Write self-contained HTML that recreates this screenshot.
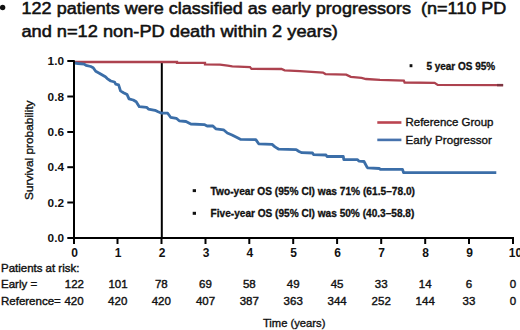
<!DOCTYPE html>
<html><head><meta charset="utf-8">
<style>
html,body{margin:0;padding:0;background:#fff;}
body{width:520px;height:330px;overflow:hidden;position:relative;}
svg{position:absolute;left:0;top:0;}
text{font-family:"Liberation Sans",sans-serif;white-space:pre;}
</style></head><body>
<svg width="520" height="330" viewBox="0 0 520 330">
<!-- title -->
<circle cx="2.6" cy="7.5" r="2.7" fill="#111"/>
<text x="21.6" y="13.8" font-size="17" fill="#111" stroke="#111" stroke-width="0.55" textLength="484.6" lengthAdjust="spacingAndGlyphs">122 patients were classified as early progressors  (n=110 PD</text>
<text x="21.4" y="36.6" font-size="17" fill="#111" stroke="#111" stroke-width="0.55" textLength="316.5" lengthAdjust="spacingAndGlyphs">and n=12 non-PD death within 2 years)</text>

<!-- y axis label -->
<text transform="translate(33.4,200) rotate(-90)" font-size="11.5" fill="#111" stroke="#111" stroke-width="0.35" textLength="99.5" lengthAdjust="spacingAndGlyphs">Survival probability</text>

<!-- axes -->
<g stroke="#000" stroke-width="2" fill="none">
<line x1="74" y1="60.2" x2="74" y2="244"/>
<line x1="67.3" y1="61" x2="74" y2="61"/>
<line x1="67.3" y1="96.5" x2="74" y2="96.5"/>
<line x1="67.3" y1="132" x2="74" y2="132"/>
<line x1="67.3" y1="167.2" x2="74" y2="167.2"/>
<line x1="67.3" y1="202.5" x2="74" y2="202.5"/>
<line x1="67.3" y1="238" x2="514" y2="238"/>
<line x1="117.5" y1="238" x2="117.5" y2="244"/>
<line x1="161.5" y1="238" x2="161.5" y2="244"/>
<line x1="205.5" y1="238" x2="205.5" y2="244"/>
<line x1="249.3" y1="238" x2="249.3" y2="244"/>
<line x1="293.2" y1="238" x2="293.2" y2="244"/>
<line x1="337.1" y1="238" x2="337.1" y2="244"/>
<line x1="381.2" y1="238" x2="381.2" y2="244"/>
<line x1="425.2" y1="238" x2="425.2" y2="244"/>
<line x1="469" y1="238" x2="469" y2="244"/>
<line x1="513" y1="238" x2="513" y2="244"/>
<line x1="161.8" y1="62.5" x2="161.8" y2="237.5"/>
</g>
<!-- y tick labels -->
<g font-size="11.8" font-weight="bold" fill="#111" text-anchor="end">
<text x="64" y="65">1.0</text>
<text x="64" y="100.5">0.8</text>
<text x="64" y="136">0.6</text>
<text x="64" y="171.2">0.4</text>
<text x="64" y="206.5">0.2</text>
<text x="64" y="241.5">0.0</text>
</g>
<!-- x tick labels -->
<g font-size="12" font-weight="bold" fill="#111" text-anchor="middle" transform="translate(0.5,0.6)">
<text x="74" y="256">0</text>
<text x="117.5" y="256">1</text>
<text x="161.5" y="256">2</text>
<text x="205.5" y="256">3</text>
<text x="249.3" y="256">4</text>
<text x="293.2" y="256">5</text>
<text x="337.1" y="256">6</text>
<text x="381.2" y="256">7</text>
<text x="425.2" y="256">8</text>
<text x="469" y="256">9</text>
<text x="515" y="256">10</text>
</g>

<!-- curves -->
<polyline fill="none" stroke="#ad424f" stroke-width="2.3" points="75,62 177,62 177,62.9 205,62.9 205,64.4 220,64.6 227.7,65.6 232.3,66.3 250,67.1 251.5,68.9 281.5,69 284.6,70.4 300,71.2 323,72.6 325.4,74.1 346.2,74.6 350.8,76.9 361.5,77.9 366,79 380,79.8 403.8,80.6 404.6,82.5 434.6,82.8 437.7,84.9 503,85.1"/>
<polyline fill="none" stroke="#3b6ea8" stroke-width="2.8" stroke-linejoin="round" points="75,63 78.1,63.5 84.1,64.1 86,65.3 90.8,66.5 93.2,67.7 95.7,71.3 99.3,73.2 102.3,75 105.4,76.8 107.2,78.6 110.8,81 114.5,82 115.7,84.1 118.6,84.9 120.5,90.9 123.5,92.7 127.1,94.6 129,98.8 133.2,100 136.2,101.8 139.3,106.7 146.6,107.3 148.4,109.1 155,110.3 158.1,111.8 161.7,113.2 167.7,113.2 170.6,117.3 176.3,118.3 179.2,120.8 186,121.5 190.8,124 204.2,124.6 207.1,126 212.9,126 215.8,128.8 223.5,129.8 227.3,133 232,135 237,137.5 240.8,139.4 255.8,139.6 258.7,143.8 272.1,144.4 275,146.9 278.8,149.2 296.2,149.6 299,151.5 301.9,152.7 312.5,153 313.5,154.6 326,155 327,156.5 343.3,156.5 343.8,159.6 357.3,159.6 359.2,161.2 364,161.5 366.9,166.9 367.9,167.9 379.4,168.5 380.4,169.4 402.5,169.4 403.5,172.5 496.3,172.7"/>

<line x1="497" y1="85.1" x2="503.2" y2="85.1" stroke="#7d3440" stroke-width="2.4"/>
<!-- legend -->
<line x1="377.3" y1="122.5" x2="401.4" y2="122.5" stroke="#bb4450" stroke-width="2.6"/>
<line x1="377.3" y1="139.9" x2="401.4" y2="139.9" stroke="#4672ad" stroke-width="2.6"/>
<text x="405.5" y="125.5" font-size="11.3" fill="#111" stroke="#111" stroke-width="0.35" textLength="88" lengthAdjust="spacingAndGlyphs">Reference Group</text>
<text x="405.5" y="144.3" font-size="11.3" fill="#111" stroke="#111" stroke-width="0.35" textLength="86.3" lengthAdjust="spacingAndGlyphs">Early Progressor</text>

<!-- annotations -->
<rect x="409.6" y="64.2" width="2.8" height="3" fill="#111"/>
<text x="426.4" y="69.7" font-size="10" font-weight="bold" fill="#111" stroke="#111" stroke-width="0.3" textLength="68.8" lengthAdjust="spacingAndGlyphs">5 year OS 95%</text>
<rect x="192.7" y="189.2" width="3.3" height="2.9" fill="#111"/>
<text x="210.6" y="194.6" font-size="10" font-weight="bold" fill="#111" stroke="#111" stroke-width="0.3" textLength="204.4" lengthAdjust="spacingAndGlyphs">Two-year OS (95% CI) was 71% (61.5–78.0)</text>
<rect x="192.7" y="211.8" width="3.3" height="3" fill="#111"/>
<text x="210.6" y="217.2" font-size="10" font-weight="bold" fill="#111" stroke="#111" stroke-width="0.3" textLength="203.7" lengthAdjust="spacingAndGlyphs">Five-year OS (95% CI) was 50% (40.3–58.8)</text>

<!-- risk table -->
<g font-size="11.5" fill="#111" stroke="#111" stroke-width="0.4" transform="translate(0,-0.4)">
<text x="1" y="272.4" textLength="78.4" lengthAdjust="spacingAndGlyphs">Patients at risk:</text>
<text x="1" y="288.8">Early =</text>
<text x="1" y="305">Reference=</text>
</g>
<g font-size="11.5" fill="#111" stroke="#111" stroke-width="0.4" text-anchor="middle" transform="translate(0,-0.5)">
<text x="74.4" y="288.8">122</text><text x="118" y="288.8">101</text><text x="161.3" y="288.8">78</text><text x="205.5" y="288.8">69</text><text x="249.3" y="288.8">58</text><text x="293.2" y="288.8">49</text><text x="337.1" y="288.8">45</text><text x="381.2" y="288.8">33</text><text x="425.2" y="288.8">14</text><text x="469" y="288.8">6</text><text x="513" y="288.8">0</text>
<text x="74" y="305.5">420</text><text x="117.7" y="305.5">420</text><text x="161.3" y="305.5">420</text><text x="205.5" y="305.5">407</text><text x="249.3" y="305.5">387</text><text x="293.2" y="305.5">363</text><text x="337.1" y="305.5">344</text><text x="381.2" y="305.5">252</text><text x="425.2" y="305.5">144</text><text x="469" y="305.5">33</text><text x="513" y="305.5">0</text>
</g>
<text x="262.9" y="326.9" font-size="11" fill="#111" stroke="#111" stroke-width="0.35" textLength="62.5" lengthAdjust="spacingAndGlyphs">Time (years)</text>
</svg>
</body></html>
